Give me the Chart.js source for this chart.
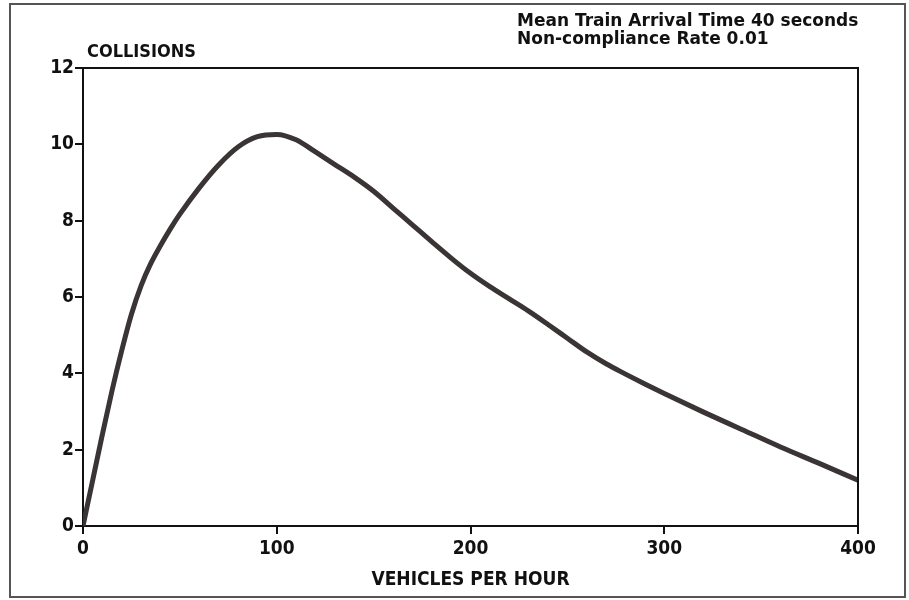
<!DOCTYPE html>
<html>
<head>
<meta charset="utf-8">
<script src="https://cdn.jsdelivr.net/npm/chart.js@4"></script>
<style>
  html, body { margin: 0; padding: 0; background: #fff; }
  #wrap { position: relative; width: 909px; height: 600px; }
  #frame { position: absolute; left: 9px; top: 3px; width: 893px; height: 591px;
           border: 2px solid #555; pointer-events: none; }
</style>
</head>
<body>
<div id="wrap">
  <canvas id="chart" width="909" height="600"></canvas>
  <div id="frame"></div>
</div>
<script>
// values
const vehicles = [0, 5, 10, 15, 20, 25, 30, 35, 40, 45, 50, 60, 70, 80, 90, 100, 110, 120, 130, 140,
                  150, 160, 170, 180, 190, 200, 210, 220, 230, 240, 250, 260, 270, 280, 290, 300,
                  320, 340, 360, 380, 400];
const collisions = [0, 1.2, 2.4, 3.55, 4.6, 5.55, 6.3, 6.88, 7.35, 7.78, 8.17, 8.86, 9.46, 9.93,
                    10.2, 10.26, 10.12, 9.8, 9.47, 9.14, 8.77, 8.33, 7.89, 7.45, 7.02, 6.62, 6.27,
                    5.95, 5.63, 5.28, 4.92, 4.56, 4.25, 3.98, 3.72, 3.47, 2.99, 2.53, 2.07, 1.64, 1.2];
const xTicks = [0, 100, 200, 300, 400];
const yTicks = [0, 2, 4, 6, 8, 10, 12];
const noteLines = ["Mean Train Arrival Time 40 seconds", "Non-compliance Rate 0.01"];
const yTitle = "COLLISIONS";
const xTitle = "VEHICLES PER HOUR";

const INK = "#111";
const NARROW = "'Liberation Sans Narrow', 'DejaVu Sans Condensed', sans-serif";

const annotations = {
  id: "annotations",
  afterDraw(c) {
    const { ctx, chartArea: a } = c;
    ctx.save();
    ctx.strokeStyle = INK;
    ctx.lineWidth = 2;
    ctx.beginPath();
    ctx.moveTo(a.left, a.top);
    ctx.lineTo(a.right, a.top);
    ctx.lineTo(a.right, a.bottom);
    ctx.stroke();

    ctx.fillStyle = INK;
    ctx.textBaseline = "alphabetic";
    ctx.font = "bold 18px " + NARROW;
    ctx.fillText(yTitle, 87, 57);

    ctx.font = "bold 17px 'DejaVu Sans', sans-serif";
    ctx.fillText(noteLines[0], 517, 26);
    ctx.fillText(noteLines[1], 517, 44);
    ctx.restore();
  },
};

new Chart(document.getElementById("chart"), {
  type: "line",
  data: {
    datasets: [{
      data: vehicles.map((v, i) => ({ x: v, y: collisions[i] })),
      borderColor: "#3a3434",
      borderWidth: 5,
      pointRadius: 0,
      cubicInterpolationMode: "monotone",
      fill: false,
    }],
  },
  options: {
    responsive: false,
    animation: false,
    layout: { padding: { top: 68, right: 51, left: 0, bottom: 0 } },
    plugins: { legend: { display: false }, tooltip: { enabled: false } },
    scales: {
      x: {
        type: "linear", min: 0, max: 400,
        afterBuildTicks: (s) => { s.ticks = xTicks.map((v) => ({ value: v })); },
        afterFit: (s) => { s.height = 74; },
        grid: { drawOnChartArea: false, drawTicks: true, tickLength: 8, color: INK, lineWidth: 2 },
        border: { color: INK, width: 2 },
        ticks: { color: INK, padding: 4, font: { family: NARROW, weight: "bold", size: 19 } },
        title: { display: true, text: xTitle, color: INK, padding: { top: 2, bottom: 9 },
                 font: { family: NARROW, weight: "bold", size: 19 } },
      },
      y: {
        min: 0, max: 12,
        afterBuildTicks: (s) => { s.ticks = yTicks.map((v) => ({ value: v })); },
        afterFit: (s) => { s.width = 83; },
        grid: { drawOnChartArea: false, drawTicks: true, tickLength: 8, color: INK, lineWidth: 2 },
        border: { color: INK, width: 2 },
        ticks: { color: INK, padding: 1, font: { family: NARROW, weight: "bold", size: 19 } },
      },
    },
  },
  plugins: [annotations],
});
</script>
</body>
</html>
